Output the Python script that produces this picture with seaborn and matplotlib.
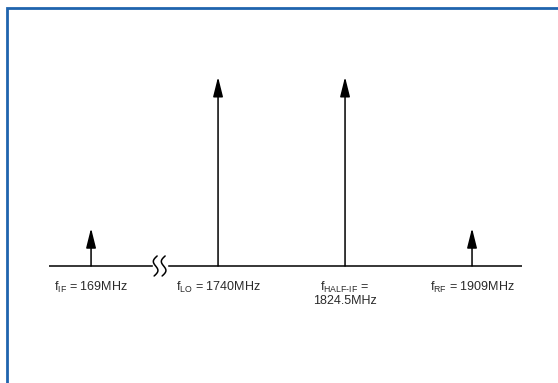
import numpy as np
import matplotlib
matplotlib.use('Agg')
import matplotlib.pyplot as plt
import matplotlib.patches as patches
import seaborn as sns

# spectrum lines (relative amplitude), drawn in equally spaced slots
labels = ['$\\mathrm{f_{IF}}$ = 169MHz',
          '$\\mathrm{f_{LO}}$ = 1740MHz',
          '$\\mathrm{f_{HALF\\text{-}IF}}$ =\n1824.5MHz',
          '$\\mathrm{f_{RF}}$ = 1909MHz']
slots = [0, 1, 2, 3]
amplitudes = [0.2, 1.0, 1.0, 0.2]
break_slot = 0.54

sns.set_theme(style='white')
plt.rcParams['font.family'] = ['Liberation Sans', 'DejaVu Sans']
plt.rcParams['mathtext.fontset'] = 'custom'
plt.rcParams['mathtext.rm'] = 'Liberation Sans'
plt.rcParams['mathtext.it'] = 'Liberation Sans'

fig = plt.figure(figsize=(5.58, 3.83), dpi=100)
ax = fig.add_axes([0, 0, 1, 1])
ax.set_xlim(-0.717, 3.677)
ax.set_ylim(-0.619, 1.407)
ax.axis('off')

# baseline
ax.plot([-0.33, 3.39], [0, 0], color='black', lw=1.1, solid_capstyle='butt')

# arrows
for s, a in zip(slots, amplitudes):
    ax.annotate('', xy=(s, a), xytext=(s, 0),
                arrowprops=dict(arrowstyle='-|>,head_length=1.2,head_width=0.3',
                                mutation_scale=10, color='black', lw=1.1,
                                shrinkA=0, shrinkB=0))

# labels
for s, lab in zip(slots, labels):
    ax.text(s, -0.072, lab, ha='center', va='top', fontsize=9,
            color='#2a2a2a', linespacing=1.0)

# axis break squiggle
px, py = 1 / 127, 1 / 189
ax.fill_between([break_slot - 7 * px, break_slot + 7 * px], -2 * py, 2 * py,
                color='white', zorder=3)
t = np.linspace(-1, 1, 60)
for dx in [-4, 4]:
    xs = break_slot + (dx - 3 * np.sin(np.pi * t) + 1.5 * t) * px
    ys = t * 10 * py
    ax.plot(xs, ys, color='black', lw=1.1, zorder=4)

# blue frame (cropped at right and bottom)
fig.patches.append(patches.Rectangle((6.5 / 558, -0.1), 1.2, 1 - 7.5 / 383 + 0.1,
                                     transform=fig.transFigure, fill=False,
                                     edgecolor='#1f64ae', lw=2.0))

fig.savefig('out.png', dpi=100)
